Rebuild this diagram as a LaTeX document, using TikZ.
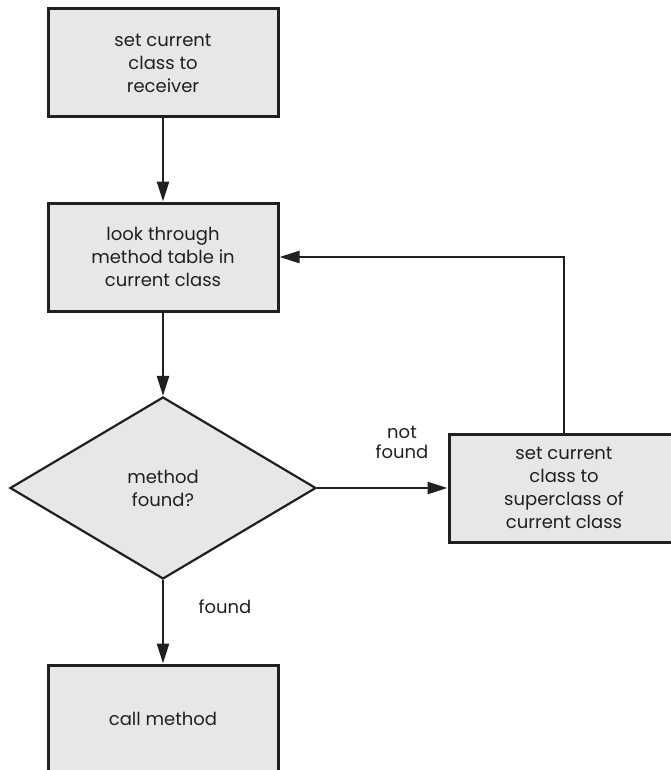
\documentclass[tikz,border=0pt]{standalone}
\usepackage{fontspec}
\setmainfont{Poppins}
\usetikzlibrary{shapes.geometric,arrows.meta}
\definecolor{boxfill}{HTML}{E6E7E7}
\definecolor{ink}{HTML}{231F20}
\tikzset{
  stepbox/.style={draw=ink, fill=boxfill, line width=3pt, minimum width=230pt, minimum height=108pt, inner sep=0pt, align=center, font=\fontsize{18}{23}\selectfont, text=ink},
  decision/.style={diamond, draw=ink, fill=boxfill, line width=2.2pt, minimum width=306pt, minimum height=182pt, aspect=1.68, inner sep=0pt, align=center, font=\fontsize{18}{23}\selectfont, text=ink},
  conn/.style={draw=ink, line width=2.4pt, -{Triangle[length=20pt,width=12pt]}},
  lbl/.style={align=center, font=\fontsize{18}{20}\selectfont, text=ink},
}
\begin{document}
\begin{tikzpicture}[x=1pt, y=-1pt]
\useasboundingbox (0,0) rectangle (670,770);
\node[stepbox] (b1) at (163,63) {set current\\class to\\receiver};
\node[stepbox] (b2) at (163,257) {look through\\method table in\\current class};
\node[decision] (d) at (163,488) {method\\found?};
\draw[draw=ink, fill=boxfill, line width=3pt] (449,434) rectangle (760,542);
\node[stepbox, draw=none, fill=none] (b3) at (564,488) {set current\\class to\\superclass of\\current class};
\draw[draw=ink, fill=boxfill, line width=3pt] (48,665) rectangle (278,800);
\node[stepbox, draw=none, fill=none] (b4) at (163,719) {call method};
\draw[conn] (b1) -- (b2);
\draw[conn] (b2) -- (d);
\draw[conn] (d.east) -- (b3.west);
\draw[conn] (b3.north) |- (b2.east);
\draw[conn] (d.south) -- (b4.north);
\node[lbl] (nf) at (402,442) {not\\found};
\node[lbl] (f) at (225,607) {found};
\end{tikzpicture}
\end{document}
